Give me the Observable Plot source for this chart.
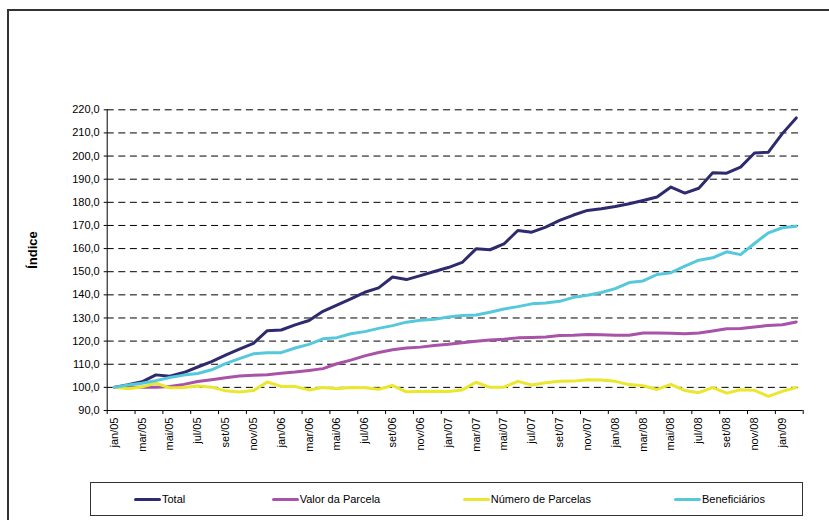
<!DOCTYPE html>
<html><head><meta charset="utf-8">
<script src="https://cdn.jsdelivr.net/npm/d3@7"></script>
<script src="https://cdn.jsdelivr.net/npm/@observablehq/plot@0.6"></script>
<style>
html,body{margin:0;padding:0;background:#fff;overflow:hidden;}
#wrap{position:relative;width:829px;height:520px;overflow:hidden;font-family:"Liberation Sans",Arial,sans-serif;color:#000;}
#frame{position:absolute;left:7px;top:9px;width:900px;height:600px;border:2px solid #333;}
#chart{position:absolute;left:0;top:0;}
#ylabel{position:absolute;left:32px;top:250px;transform:translate(-50%,-50%) rotate(-90deg);font-weight:bold;font-size:13px;white-space:nowrap;}
#legend{position:absolute;left:90px;top:482px;width:713px;height:34px;border:1px solid #333;box-sizing:border-box;}
.item{position:absolute;top:0;height:100%;display:flex;align-items:center;font-size:11px;}
.sw{width:27px;height:3px;border-radius:1.5px;margin-right:1px;}
</style>
</head><body>
<div id="wrap">
  <div id="frame"></div>
  <div id="chart"></div>
  <div id="ylabel">Índice</div>
  <div id="legend"></div>
</div>
<script>
const months = ["jan/05","fev/05","mar/05","abr/05","mai/05","jun/05","jul/05","ago/05","set/05","out/05","nov/05","dez/05",
"jan/06","fev/06","mar/06","abr/06","mai/06","jun/06","jul/06","ago/06","set/06","out/06","nov/06","dez/06",
"jan/07","fev/07","mar/07","abr/07","mai/07","jun/07","jul/07","ago/07","set/07","out/07","nov/07","dez/07",
"jan/08","fev/08","mar/08","abr/08","mai/08","jun/08","jul/08","ago/08","set/08","out/08","nov/08","dez/08",
"jan/09","fev/09"];

const series = ["Total","Valor da Parcela","Número de Parcelas","Beneficiários"];
const colors = ["#2d2a6e","#a852a8","#ebe62e","#55c8dc"];

const total = [100,101.1,102.4,105.4,104.8,106.4,108.8,111.1,113.9,116.5,119,124.5,124.8,127,128.9,132.9,135.6,138.3,141.1,143,
147.7,146.6,148.3,150.1,151.8,154,159.9,159.5,162,167.8,167.1,169.3,172.2,174.5,176.5,177.2,178.2,179.4,180.8,182.3,
186.6,184,186.1,192.8,192.6,195.2,201.3,201.7,209.7,216.5];

const valorParcela = [100,100,100,100.1,100.4,101.3,102.5,103.3,104.2,104.9,105.2,105.5,106.1,106.6,107.3,108.1,110.2,111.8,113.6,115.1,
116.3,117,117.4,118.1,118.6,119.3,119.9,120.5,120.8,121.4,121.6,121.8,122.4,122.5,122.9,122.8,122.5,122.5,123.5,123.5,
123.4,123.2,123.5,124.4,125.3,125.5,126.1,126.8,127.1,128.3];

const numeroParcelas = [100,99.4,100.2,101.8,99.8,99.9,100.6,100.1,98.5,98,98.6,102.3,100.4,100.4,98.9,99.9,99.4,99.9,99.8,99.2,
100.8,98.1,98.2,98.3,98.2,98.9,102.2,100,100.1,102.6,101,102,102.6,102.7,103.3,103.2,102.6,101.2,100.7,99.1,
101.3,98.6,97.7,99.9,97.5,99,98.7,96.1,98.3,99.9];

const beneficiarios = [100,101,101.8,102.9,104.3,105.3,106,107.6,110.3,112.4,114.5,115,115,117,118.6,121,121.5,123.2,124.1,125.5,
126.7,128.2,129,129.4,130.4,131.1,131.3,132.5,133.9,134.9,136.1,136.5,137.2,138.9,139.8,141,142.7,145.3,146,148.8,
149.6,152.4,155,156,158.6,157.4,162.2,166.8,169,169.7];

const yTicks = [90,100,110,120,130,140,150,160,170,180,190,200,210,220];

const values = [total, valorParcela, numeroParcelas, beneficiarios];
const data = [];
series.forEach((s, k) => values[k].forEach((v, i) => data.push({s, i, v})));

const chart = Plot.plot({
  width: 829,
  height: 470,
  marginLeft: 106.7,
  marginRight: 26.3,
  marginTop: 109.3,
  marginBottom: 60,
  style: {fontFamily: "'Liberation Sans', Arial, sans-serif", fontSize: "11px", color: "#000", background: "transparent"},
  x: {type: "linear", domain: [-0.5, months.length - 0.5]},
  y: {domain: [90, 220]},
  color: {domain: series, range: colors},
  marks: [
    Plot.gridY(yTicks.slice(1), {stroke: "#000", strokeOpacity: 1, strokeWidth: 1, strokeDasharray: "7,4.6"}),
    Plot.axisY(yTicks, {tickSize: 3, tickPadding: 4.5, tickFormat: d => d.toFixed(1).replace(".", ","), label: null}),
    Plot.axisX(d3.range(-0.5, months.length, 2), {tickSize: 4, tickFormat: () => "", label: null}),
    Plot.axisX(d3.range(0, months.length, 2), {tickSize: 0, tickPadding: 7, tickRotate: -90, tickFormat: i => months[i], label: null}),
    Plot.ruleX([-0.5], {stroke: "#000", strokeWidth: 1}),
    Plot.ruleY([90], {stroke: "#000", strokeWidth: 1}),
    Plot.line(data, {x: "i", y: "v", z: "s", stroke: "s", strokeWidth: 3, strokeLinejoin: "round", strokeLinecap: "round"})
  ]
});
document.getElementById("chart").appendChild(chart);

const legendX = [43, 180.7, 371.7, 583];
const legend = document.getElementById("legend");
series.forEach((s, k) => {
  const it = document.createElement("div");
  it.className = "item";
  it.style.left = legendX[k] + "px";
  const sw = document.createElement("div");
  sw.className = "sw";
  sw.style.background = colors[k];
  const t = document.createElement("span");
  t.textContent = s;
  it.appendChild(sw); it.appendChild(t);
  legend.appendChild(it);
});
</script>
</body></html>
